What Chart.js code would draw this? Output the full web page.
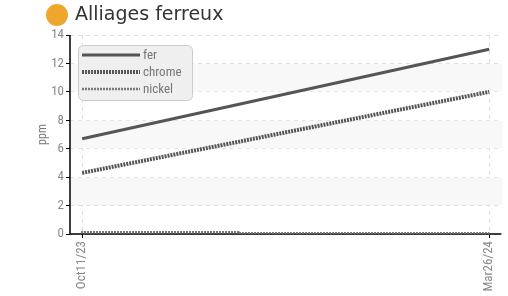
<!DOCTYPE html>
<html>
<head>
<meta charset="utf-8">
<style>
    html, body { margin: 0; padding: 0; background: #fff; }
    #wrap { width: 508px; height: 296px; }
</style>
</head>
<body>
<div id="wrap"><canvas id="alloyChart" width="508" height="296"></canvas></div>
<script src="https://cdn.jsdelivr.net/npm/chart.js"></script>
<script>
// days counted from Oct 11 2023
const tickDays = [0, 167];
const tickLabels = ['Oct11/23', 'Mar26/24'];
const ferDays = [0, 167];
const ferValues = [6.7, 13.0];
const chromeDays = [0, 167];
const chromeValues = [4.3, 10.0];
const nickelDays = [0, 64, 132, 167];
const nickelValues = [0.2, 0.12, 0.05, 0.05];
const bandRanges = [[2, 4], [6, 8], [10, 12]];

const narrow = '"Liberation Sans Narrow", "Roboto Condensed", Roboto, sans-serif';

function pts(xs, ys) {
    return xs.map((x, i) => ({ x: x, y: ys[i] }));
}

// light bands + solid axis lines (grid lines are dashed)
const bandsPlugin = {
    id: 'bands',
    beforeDatasetsDraw(chart) {
        const { ctx, chartArea, scales } = chart;
        ctx.save();
        ctx.fillStyle = '#f8f8f8';
        bandRanges.forEach(r => {
            const y1 = scales.y.getPixelForValue(r[1]);
            const y0 = scales.y.getPixelForValue(r[0]);
            ctx.fillRect(chartArea.left + 1, y1 + 0.5, chartArea.right - chartArea.left, y0 - y1 - 1);
        });
        ctx.strokeStyle = '#000';
        ctx.lineWidth = 1.5;
        ctx.beginPath();
        ctx.moveTo(chartArea.left, chartArea.top);
        ctx.lineTo(chartArea.left, chartArea.bottom);
        ctx.lineTo(chartArea.right, chartArea.bottom);
        ctx.stroke();
        ctx.restore();
    }
};

const headerPlugin = {
    id: 'header',
    afterDraw(chart) {
        const ctx = chart.ctx;
        ctx.save();
        ctx.fillStyle = '#eca72c';
        ctx.beginPath();
        ctx.arc(57, 15, 11, 0, Math.PI * 2);
        ctx.fill();
        ctx.fillStyle = '#333';
        ctx.font = '19px "DejaVu Sans", sans-serif';
        ctx.textBaseline = 'middle';
        ctx.fillText('Alliages ferreux', 75, 15);
        ctx.restore();
    }
};

const boxLegend = {
    id: 'boxLegend',
    afterDatasetsDraw(chart) {
        const ctx = chart.ctx;
        ctx.save();
        ctx.beginPath();
        ctx.roundRect(78.5, 45.5, 114, 55, 5);
        ctx.fillStyle = 'rgba(238,238,238,0.95)';
        ctx.fill();
        ctx.strokeStyle = '#ccc';
        ctx.lineWidth = 1;
        ctx.stroke();
        chart.data.datasets.forEach((ds, i) => {
            const y = 55 + i * 17;
            ctx.beginPath();
            ctx.setLineDash(ds.borderDash || []);
            ctx.lineWidth = ds.borderWidth;
            ctx.strokeStyle = ds.borderColor;
            ctx.moveTo(82, y);
            ctx.lineTo(140, y);
            ctx.stroke();
            ctx.setLineDash([]);
            ctx.fillStyle = '#777';
            ctx.font = '13px ' + narrow;
            ctx.textBaseline = 'middle';
            ctx.fillText(ds.label, 143, y + 1);
        });
        ctx.restore();
    }
};

new Chart(document.getElementById('alloyChart'), {
    type: 'line',
    data: {
        datasets: [
            { label: 'fer', data: pts(ferDays, ferValues), borderColor: '#555', borderWidth: 3, pointRadius: 0 },
            { label: 'chrome', data: pts(chromeDays, chromeValues), borderColor: '#555', borderWidth: 4, borderDash: [2, 1], pointRadius: 0 },
            { label: 'nickel', data: pts(nickelDays, nickelValues), borderColor: '#777', borderWidth: 2.5, borderDash: [2, 1], pointRadius: 0, stepped: 'after' }
        ]
    },
    options: {
        responsive: false,
        animation: false,
        layout: { padding: { top: 35, right: 6, left: 36, bottom: 0 } },
        plugins: { legend: { display: false }, tooltip: { enabled: false } },
        scales: {
            x: {
                type: 'linear',
                min: -5,
                max: 172,
                afterBuildTicks: s => { s.ticks = tickDays.map(v => ({ value: v })); },
                afterFit: s => { s.height = 62; },
                ticks: {
                    autoSkip: false,
                    maxRotation: 90,
                    minRotation: 90,
                    color: '#888',
                    font: { family: narrow, size: 13 },
                    callback: v => tickLabels[tickDays.indexOf(v)]
                },
                grid: { color: '#ddd', tickColor: '#000', tickLength: 4, tickBorderDash: [] },
                border: { display: false, dash: [4, 4] }
            },
            y: {
                min: 0,
                max: 14,
                afterFit: s => { s.width = 34; },
                ticks: { stepSize: 2, color: '#888', font: { family: narrow, size: 13 }, padding: 2 },
                title: { display: true, text: 'ppm', color: '#777', font: { family: narrow, size: 12 }, padding: 0 },
                grid: { color: '#ddd', tickColor: '#000', tickLength: 4, tickBorderDash: [] },
                border: { display: false, dash: [4, 4] }
            }
        }
    },
    plugins: [bandsPlugin, headerPlugin, boxLegend]
});
</script>
</body>
</html>
